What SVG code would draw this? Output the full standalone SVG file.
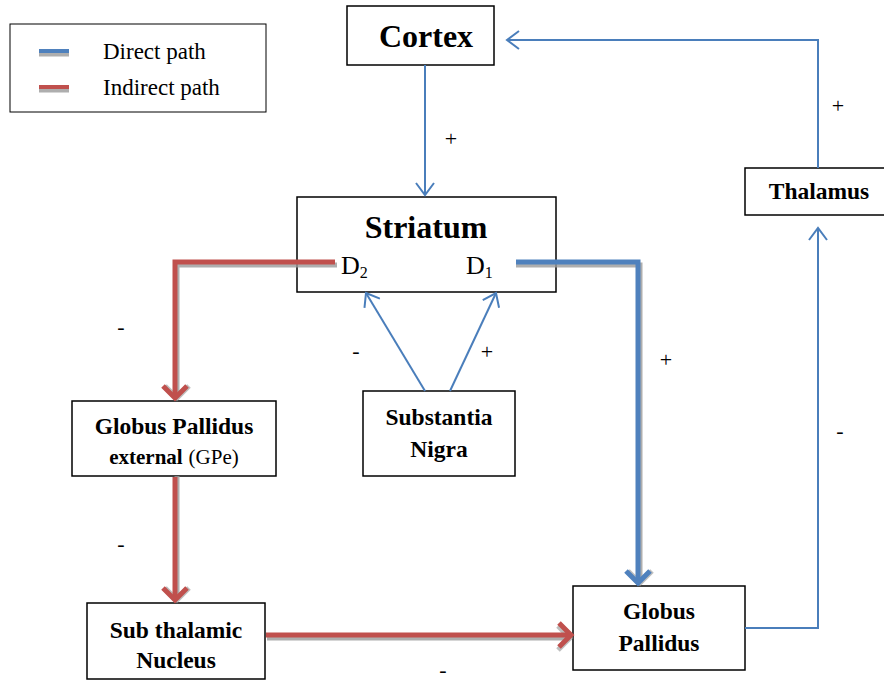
<svg xmlns="http://www.w3.org/2000/svg" width="884" height="681" viewBox="0 0 884 681">
  <style>
    .box { fill: #ffffff; stroke: #000000; stroke-width: 1.5; }
    .t { font-family: "Liberation Serif", "Times New Roman", serif; fill: #000; }
    .b { font-weight: bold; }
    .lbl { font-family: "Liberation Serif", "Times New Roman", serif; font-weight: bold; font-size: 23.5px; fill: #000; text-anchor: middle; }
    .sign { font-family: "Liberation Serif", serif; font-size: 22px; fill: #000; text-anchor: middle; }
    .thin { fill: none; stroke: #4a7ebb; stroke-width: 2; }
    .red { fill: none; stroke: #c0504d; stroke-width: 5; }
    .blue { fill: none; stroke: #4f81bd; stroke-width: 5; }
    .shadow { fill: none; stroke: #9a9a9a; stroke-width: 5; opacity: 0.8; }
  </style>
  <defs>
    <marker id="openArrow" markerWidth="20" markerHeight="20" refX="14" refY="10" orient="auto" markerUnits="userSpaceOnUse">
      <path d="M2,1 L14,10 L2,19" fill="none" stroke="#4a7ebb" stroke-width="2"/>
    </marker>
    <marker id="redHead" markerWidth="30" markerHeight="30" refX="20" refY="15" orient="auto" markerUnits="userSpaceOnUse">
      <path d="M8,3 L20,15 L8,27" fill="none" stroke="#c0504d" stroke-width="5"/>
    </marker>
    <marker id="blueHead" markerWidth="30" markerHeight="30" refX="20" refY="15" orient="auto" markerUnits="userSpaceOnUse">
      <path d="M8,3 L20,15 L8,27" fill="none" stroke="#4f81bd" stroke-width="5"/>
    </marker>
    <marker id="shadowHead" markerWidth="30" markerHeight="30" refX="20" refY="15" orient="auto" markerUnits="userSpaceOnUse">
      <path d="M8,3 L20,15 L8,27" fill="none" stroke="#9a9a9a" stroke-width="5" opacity="0.8"/>
    </marker>
  </defs>

  <!-- legend -->
  <g id="legend">
    <rect x="10" y="24" width="256" height="88" fill="#fff" stroke="#000" stroke-width="1"/>
    <line x1="39" y1="54" x2="69" y2="54" class="shadow" stroke-width="4"/>
    <line x1="39" y1="51" x2="69" y2="51" stroke="#4f81bd" stroke-width="4"/>
    <line x1="39" y1="90" x2="69" y2="90" class="shadow" stroke-width="4"/>
    <line x1="39" y1="87" x2="69" y2="87" stroke="#c0504d" stroke-width="4"/>
    <text x="103" y="59" class="t" font-size="23">Direct path</text>
    <text x="103" y="95" class="t" font-size="23">Indirect path</text>
  </g>

  <g id="cortex">
    <rect x="347" y="6" width="147" height="59" class="box"/>
    <text x="426" y="47" class="t b" font-size="32" text-anchor="middle">Cortex</text>
  </g>

  <g id="striatum">
    <rect x="297" y="197" width="259" height="95" class="box"/>
    <text x="426" y="238" class="t b" font-size="32" text-anchor="middle">Striatum</text>
    <text x="341" y="274" class="t" font-size="26">D<tspan font-size="16" dy="4">2</tspan></text>
    <text x="466" y="274" class="t" font-size="26">D<tspan font-size="16" dy="4">1</tspan></text>
  </g>

  <g id="thalamus">
    <rect x="745" y="168" width="145" height="47" class="box"/>
    <text x="819" y="199" class="lbl">Thalamus</text>
  </g>

  <g id="gpe">
    <rect x="72" y="401" width="204" height="75" class="box"/>
    <text x="174" y="434" class="lbl">Globus Pallidus</text>
    <text x="174" y="464" class="lbl"><tspan font-size="21">external</tspan> <tspan font-weight="normal" font-size="21">(GPe)</tspan></text>
  </g>

  <g id="substantia-nigra">
    <rect x="363" y="391" width="152" height="85" class="box"/>
    <text x="439" y="425" class="lbl">Substantia</text>
    <text x="439" y="457" class="lbl">Nigra</text>
  </g>

  <g id="subthalamic-nucleus">
    <rect x="87" y="603" width="178" height="76" class="box"/>
    <text x="176" y="638" class="lbl">Sub thalamic</text>
    <text x="176" y="668" class="lbl">Nucleus</text>
  </g>

  <g id="globus-pallidus">
    <rect x="573" y="586" width="172" height="84" class="box"/>
    <text x="659" y="619" class="lbl">Globus</text>
    <text x="659" y="651" class="lbl">Pallidus</text>
  </g>

  <!-- connectors -->
  <g id="connectors">
    <!-- shadows of the thick paths -->
    <path d="M337,265 H177 V398" class="shadow" marker-end="url(#shadowHead)"/>
    <path d="M177,476 V600" class="shadow" marker-end="url(#shadowHead)"/>
    <path d="M267,638 H570" class="shadow" marker-end="url(#shadowHead)"/>
    <path d="M516,265 H640 V583" class="shadow" marker-end="url(#shadowHead)"/>
    <!-- indirect path -->
    <path d="M335,262 H175 V398" class="red" marker-end="url(#redHead)"/>
    <path d="M175,477 V600" class="red" marker-end="url(#redHead)"/>
    <path d="M266,635 H571" class="red" marker-end="url(#redHead)"/>
    <!-- direct path -->
    <path d="M516,262 H638 V583" class="blue" marker-end="url(#blueHead)"/>
    <!-- thin links -->
    <path d="M425,65 V195" class="thin" marker-end="url(#openArrow)"/>
    <path d="M818,168 V40 H507" class="thin" marker-end="url(#openArrow)"/>
    <path d="M745,628 H818 V228" class="thin" marker-end="url(#openArrow)"/>
    <path d="M425,391 L366,293" class="thin" marker-end="url(#openArrow)"/>
    <path d="M450,391 L496,293" class="thin" marker-end="url(#openArrow)"/>
    <!-- signs -->
    <text x="451" y="146" class="sign">+</text>
    <text x="838" y="113" class="sign">+</text>
    <text x="121" y="334" class="sign">-</text>
    <text x="666" y="367" class="sign">+</text>
    <text x="356" y="358" class="sign">-</text>
    <text x="487" y="359" class="sign">+</text>
    <text x="840" y="438" class="sign">-</text>
    <text x="121" y="551" class="sign">-</text>
    <text x="443" y="677" class="sign" font-size="18">-</text>
  </g>
</svg>
